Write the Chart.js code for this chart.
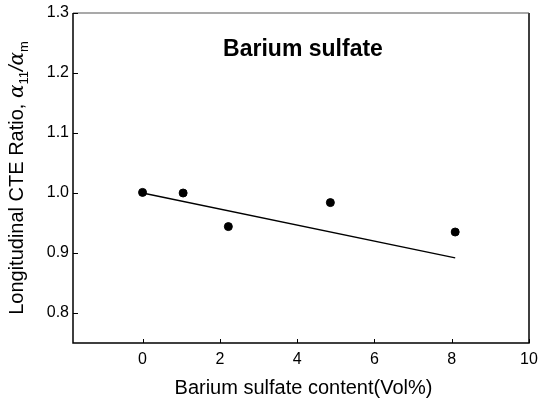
<!DOCTYPE html>
<html>
<head>
<meta charset="utf-8">
<script src="https://cdn.jsdelivr.net/npm/chart.js@4.4.1/dist/chart.umd.min.js"></script>
<style>
html,body{margin:0;padding:0;background:#fff;}
#wrap{width:539px;height:403px;position:relative;}
</style>
</head>
<body>
<div id="wrap"><canvas id="c" width="539" height="403"></canvas></div>
<script>
// Data
const contentVol = [0, 1.05, 2.22, 4.86, 8.09];
const cteRatio = [1.001, 1.0, 0.944, 0.984, 0.935];
const fitX = [0, 8.09];
const fitY = [1.0, 0.892];
const xTicks = [0, 2, 4, 6, 8, 10];
const yTicks = [0.8, 0.9, 1.0, 1.1, 1.2, 1.3];
const chartTitle = 'Barium sulfate';
const xTitle = 'Barium sulfate content(Vol%)';
const yTitleMain = 'Longitudinal CTE Ratio, ';

const FONT = '"Liberation Sans", Arial, sans-serif';

const framePlugin = {
  id: 'frame',
  afterDraw(chart) {
    const ctx = chart.ctx, a = chart.chartArea;
    const xs = chart.scales.x, ys = chart.scales.y;
    ctx.save();
    // frame
    ctx.strokeStyle = '#000';
    ctx.lineWidth = 1.5;
    ctx.beginPath();
    ctx.moveTo(a.left, a.top); ctx.lineTo(a.left, a.bottom); ctx.lineTo(a.right, a.bottom); ctx.lineTo(a.right, a.top);
    ctx.stroke();
    ctx.strokeStyle = '#555';
    ctx.lineWidth = 1.2;
    ctx.beginPath();
    ctx.moveTo(a.left, a.top); ctx.lineTo(a.right, a.top);
    ctx.stroke();
    // inward ticks
    ctx.strokeStyle = '#000';
    ctx.lineWidth = 1;
    xs.ticks.forEach(t => {
      const px = Math.round(xs.getPixelForValue(t.value)) + 0.5;
      ctx.beginPath(); ctx.moveTo(px, a.bottom); ctx.lineTo(px, a.bottom - 4); ctx.stroke();
    });
    ys.ticks.forEach(t => {
      const py = Math.round(ys.getPixelForValue(t.value)) + 0.5;
      ctx.beginPath(); ctx.moveTo(a.left, py); ctx.lineTo(a.left + 5, py); ctx.stroke();
    });
    ctx.fillStyle = '#000';
    ctx.textAlign = 'center';
    ctx.textBaseline = 'middle';
    // chart title inside plot
    ctx.font = 'bold 23px ' + FONT;
    ctx.fillText(chartTitle, 303, a.top + 37);
    // x-axis title
    ctx.font = '20px ' + FONT;
    ctx.fillText(xTitle, 303.5, a.bottom + 45);
    // y-axis title, rotated, with italic alpha and subscripts
    const cy = (a.top + a.bottom) / 2;
    const cx = 16;
    ctx.translate(cx, cy);
    ctx.rotate(-Math.PI / 2);
    const parts = [
      {t: yTitleMain, f: '20px ' + FONT, dy: 0},
      {t: '\u03B1', f: 'italic 20px "DejaVu Serif", serif', dy: 0},
      {t: '11', f: '13px ' + FONT, dy: 5},
      {t: '/', f: 'italic 20px ' + FONT, dy: 0},
      {t: '\u03B1', f: 'italic 20px "DejaVu Serif", serif', dy: 0},
      {t: 'm', f: '13px ' + FONT, dy: 5}
    ];
    let total = 0;
    parts.forEach(p => { ctx.font = p.f; p.w = ctx.measureText(p.t).width; total += p.w; });
    let x = -total / 2;
    ctx.textAlign = 'left';
    ctx.textBaseline = 'alphabetic';
    parts.forEach(p => { ctx.font = p.f; ctx.fillText(p.t, x, 7 + p.dy); x += p.w; });
    ctx.restore();
  }
};

new Chart(document.getElementById('c'), {
  type: 'scatter',
  data: {
    datasets: [
      {
        data: contentVol.map((v, i) => ({x: v, y: cteRatio[i]})),
        backgroundColor: '#000', borderColor: '#000',
        pointRadius: 4, pointHoverRadius: 4, showLine: false
      },
      {
        data: fitX.map((v, i) => ({x: v, y: fitY[i]})),
        borderColor: '#000', borderWidth: 1.3, pointRadius: 0, showLine: true, fill: false
      }
    ]
  },
  options: {
    responsive: false,
    animation: false,
    devicePixelRatio: 1,
    layout: {padding: {left: 0, right: 10, top: 13, bottom: 0}},
    plugins: {legend: {display: false}, tooltip: {enabled: false}, title: {display: false}},
    scales: {
      x: {
        type: 'linear', min: -1.8, max: 10,
        afterBuildTicks: s => { s.ticks = xTicks.map(v => ({value: v})); },
        afterFit: s => { s.height = 60; s.paddingRight = 0; s.paddingLeft = 0; },
        grid: {display: false, drawTicks: false},
        border: {display: false},
        ticks: {color: '#000', font: {family: FONT, size: 16}, padding: 7, maxRotation: 0},
        title: {display: false}
      },
      y: {
        type: 'linear', min: 0.75, max: 1.3,
        afterBuildTicks: s => { s.ticks = yTicks.map(v => ({value: v})); },
        afterFit: s => { s.width = 73; s.paddingTop = 0; s.paddingBottom = 0; },
        grid: {display: false, drawTicks: false},
        border: {display: false},
        ticks: {color: '#000', font: {family: FONT, size: 16}, padding: 4, callback: v => v.toFixed(1)}
      }
    }
  },
  plugins: [framePlugin]
});
</script>
</body>
</html>
